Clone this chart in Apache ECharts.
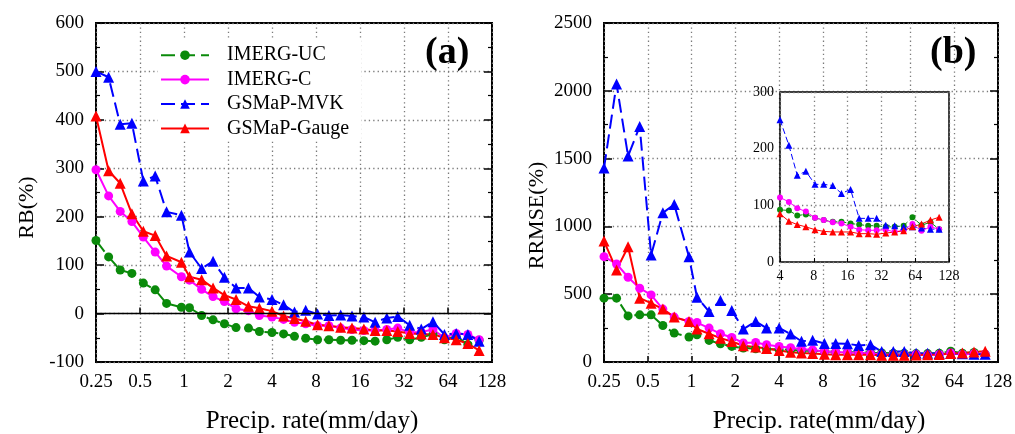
<!DOCTYPE html>
<html><head><meta charset="utf-8">
<script src="https://cdn.jsdelivr.net/npm/echarts@6/dist/echarts.min.js"></script>
<style>html,body{margin:0;padding:0;background:#fff}#c{width:1015px;height:434px}</style>
</head><body><div id="c"></div>
<script>
// Precipitation-rate bins (mm/day)
const precipRate = [0.25, 0.305, 0.366, 0.44, 0.527, 0.635, 0.76, 0.96, 1.09, 1.32, 1.58, 1.89, 2.27, 2.76, 3.28,
  4.0, 4.8, 5.7, 6.8, 8.2, 9.8, 11.8, 14.1, 17.0, 20.3, 24.4, 29.0, 35.0, 42.0, 50.5, 60.5, 72.8, 87.5, 104.5];

const seriesNames = ['IMERG-UC', 'IMERG-C', 'GSMaP-MVK', 'GSMaP-Gauge'];

// (a) RB (%)
const rbUC    = [151, 117, 90, 83, 63, 49, 21, 13, 12, -4, -13, -21, -29, -30, -37, -39, -42, -47, -51, -54, -54, -55, -55, -56, -57, -54, -49, -54, -49, -43, -54, -47, -64, -55];
const rbC     = [297, 243, 211, 190, 158, 127, 98, 76, 69, 50, 35, 25, 10, 6, -4, -7, -12, -18, -21, -25, -25, -30, -33, -35, -35, -33, -30, -39, -38, -33, -50, -41, -43, -54];
const rbMVK   = [500, 488, 391, 393, 274, 284, 210, 203, 127, 93, 108, 75, 53, 53, 34, 29, 18, 3, 7, -1, -4, -3, -5, -7, -18, -9, -6, -24, -32, -17, -43, -41, -43, -57];
const rbGauge = [408, 295, 269, 206, 170, 161, 119, 106, 76, 70, 53, 38, 29, 15, 11, 5, -5, -10, -16, -23, -25, -28, -30, -32, -35, -35, -37, -41, -42, -43, -50, -54, -62, -76];

// (b) RRMSE (%)
const rrUC    = [471, 471, 340, 348, 348, 269, 213, 184, 201, 159, 135, 115, 103, 98, 95, 92, 91, 82, 84, 78, 74, 71, 71, 68, 66, 64, 64, 62, 62, 64, 79, 65, 70, 58];
const rrC     = [777, 723, 625, 544, 495, 390, 331, 299, 291, 250, 208, 181, 140, 144, 127, 114, 106, 95, 89, 78, 74, 70, 68, 62, 57, 56, 56, 57, 53, 56, 67, 55, 62, 58];
const rrMVK   = [1430, 2050, 1519, 1737, 789, 1100, 1162, 776, 478, 372, 453, 379, 243, 299, 250, 251, 206, 153, 160, 137, 137, 135, 121, 128, 77, 77, 77, 65, 64, 62, 62, 60, 58, 58];
const rrGauge = [892, 679, 850, 471, 434, 390, 331, 299, 243, 208, 176, 151, 120, 110, 100, 85, 72, 66, 62, 57, 54, 53, 53, 53, 50, 50, 49, 51, 53, 55, 62, 67, 74, 79];

const F = 'Liberation Serif';
const colors = ['#0a8a0a', '#ff00ff', '#0000ff', '#ff0000'];
const symbols = ['circle', 'circle', 'triangle', 'triangle'];
const dashed = [true, false, true, false];

const chart = echarts.init(document.getElementById('c'), null, {renderer: 'canvas'});

const gridLine = {show: true, lineStyle: {color: '#7a7a7a', width: 1.3, type: [1.3, 3.1]}};
const fmt = v => String(+(+v).toPrecision(4));

function xLog(gridIndex, min, max, small) {
  return {
    type: 'log', logBase: 2, gridIndex, min, max, splitNumber: 9,
    axisLine: {show: false},
    axisTick: {show: true, inside: true, length: small ? 4 : 6, lineStyle: {color: '#000', width: small ? 1 : 1.5}},
    axisLabel: {show: true, formatter: fmt, fontFamily: F, fontSize: small ? 14 : 19, color: '#000', margin: small ? 7 : 11},
    splitLine: gridLine,
    minorTick: {show: false}, minorSplitLine: {show: false},
    z: small ? 11 : 0
  };
}
function yVal(gridIndex, min, max, interval, pos, labels, small) {
  return {
    type: 'value', gridIndex, min, max, interval, position: pos,
    axisLine: {show: false},
    axisTick: {show: !small, inside: true, length: 8, lineStyle: {color: '#000', width: 1.5}},
    minorTick: {show: !small, splitNumber: 2, length: 4, lineStyle: {color: '#000', width: 1.2}},
    axisLabel: {show: labels, formatter: fmt, fontFamily: F, fontSize: small ? 14 : 19, color: '#000', margin: small ? 6 : 12},
    splitLine: labels ? gridLine : {show: false},
    z: small ? 11 : 0
  };
}

function pairs(ys) { return precipRate.map((x, i) => [x, ys[i]]); }

function mk(i, ys, xi, yi, small, extra) {
  const s = {
    name: seriesNames[i], type: 'line', xAxisIndex: xi, yAxisIndex: yi,
    data: small ? pairs(ys).filter(p => p[0] >= 4) : pairs(ys),
    symbol: symbols[i],
    symbolSize: small ? (symbols[i] === 'circle' ? 6 : 7) : (symbols[i] === 'circle' ? 9 : 11),
    itemStyle: {color: colors[i]},
    lineStyle: {color: colors[i], width: small ? 1 : 2, type: dashed[i] ? (small ? [6, 3] : [14, 6]) : 'solid'},
    showSymbol: true, animation: false, clip: true,
    z: small ? 12 : 2
  };
  return Object.assign(s, extra || {});
}

const rbData = [rbUC, rbC, rbMVK, rbGauge];
const rrData = [rrUC, rrC, rrMVK, rrGauge];

const series = [];
rbData.forEach((d, i) => series.push(mk(i, d, 0, 0, false, i === 0 ? {
  markLine: {silent: true, symbol: 'none', label: {show: false}, animation: false,
    lineStyle: {color: '#000', width: 1.3, type: 'solid'}, data: [{yAxis: 0}]}
} : null)));
rrData.forEach((d, i) => series.push(mk(i, d, 1, 2, false)));
rrData.forEach((d, i) => series.push(mk(i, d, 2, 4, true)));

const option = {
  backgroundColor: '#fff',
  animation: false,
  grid: [
    {left: 96, top: 23, right: 523, bottom: 72, show: true, borderColor: '#000', borderWidth: 2, backgroundColor: 'transparent', containLabel: false, outerBoundsMode: 'none'},
    {left: 604, top: 23, right: 17, bottom: 72, show: true, borderColor: '#000', borderWidth: 2, backgroundColor: 'transparent', containLabel: false, outerBoundsMode: 'none'},
    {left: 780, top: 92, width: 169, height: 170, show: true, borderColor: '#000', borderWidth: 1.5, backgroundColor: '#fff', z: 10, containLabel: false, outerBoundsMode: 'none'}
  ],
  xAxis: [
    Object.assign(xLog(0, 0.25, 128, false), {name: 'Precip. rate(mm/day)', nameLocation: 'middle', nameGap: 47,
      nameTextStyle: {fontFamily: F, fontSize: 25, color: '#000', padding: [0, 0, 0, 36]}}),
    Object.assign(xLog(1, 0.25, 128, false), {name: 'Precip. rate(mm/day)', nameLocation: 'middle', nameGap: 47,
      nameTextStyle: {fontFamily: F, fontSize: 25, color: '#000', padding: [0, 0, 0, 36]}}),
    xLog(2, 4, 128, true)
  ],
  yAxis: [
    Object.assign(yVal(0, -100, 600, 100, 'left', true, false), {name: 'RB(%)', nameLocation: 'middle', nameGap: 58,
      nameTextStyle: {fontFamily: F, fontSize: 22, color: '#000', padding: [0, 30, 0, 0]}}),
    yVal(0, -100, 600, 100, 'right', false, false),
    Object.assign(yVal(1, 0, 2500, 500, 'left', true, false), {name: 'RRMSE(%)', nameLocation: 'middle', nameGap: 56,
      nameTextStyle: {fontFamily: F, fontSize: 22, color: '#000', padding: [0, 46, 0, 0]}}),
    yVal(1, 0, 2500, 500, 'right', false, false),
    yVal(2, 0, 300, 100, 'left', true, true)
  ],
  legend: {
    left: 158, top: 38, orient: 'vertical', backgroundColor: '#fff',
    padding: [7, 12, 2, 2], itemWidth: 48, itemHeight: 12, itemGap: 4,
    textStyle: {fontFamily: F, fontSize: 20, color: '#000', lineHeight: 20.4, padding: [0, 0, 0, 13]},
    data: seriesNames
  },
  graphic: [
    {type: 'text', left: 425, top: 34, style: {text: '(a)', font: 'bold 38px "Liberation Serif"', fill: '#000'}, z: 20},
    {type: 'text', left: 930, top: 34, style: {text: '(b)', font: 'bold 38px "Liberation Serif"', fill: '#000'}, z: 20}
  ],
  series
};
chart.setOption(option);
</script>
</body></html>
